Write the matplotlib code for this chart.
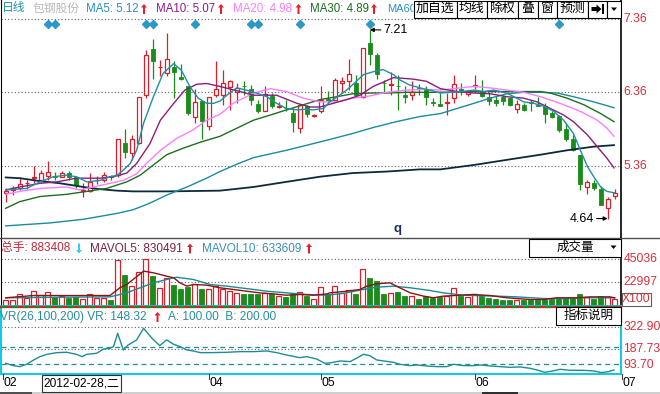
import numpy as np
import matplotlib
matplotlib.use("Agg")
import matplotlib.pyplot as plt
from matplotlib.patches import Rectangle, Polygon
from matplotlib.lines import Line2D
from matplotlib import transforms

plt.rcParams['font.family'] = ['Liberation Sans', 'Noto Sans CJK SC', 'DejaVu Sans']

# daily bars, 包钢股份, Feb - Jun 2012
opens = [4.99, 5.03, 5.05, 5.12, 5.19, 5.17, 5.22, 5.22, 5.21, 5.26,
         5.20, 5.02, 5.02, 5.16, 5.17, 5.22, 5.23, 5.67, 5.53, 5.67,
         6.32, 6.95, 6.70, 6.62, 6.71, 6.57, 6.44, 6.02, 6.24, 5.90,
         6.32, 6.33, 6.43, 6.37, 6.45, 6.40, 6.20, 6.11, 6.31, 6.16,
         6.15, 6.08, 5.87, 6.17, 6.04, 6.10, 6.27, 6.26, 6.48, 6.51,
         6.49, 6.29, 7.03, 6.87, 6.49, 6.46, 6.45, 6.33, 6.32, 6.42,
         6.41, 6.23, 6.20, 6.21, 6.28, 6.41, 6.34, 6.44, 6.38, 6.30,
         6.26, 6.29, 6.28, 6.13, 6.19, 6.23, 6.19, 6.17, 6.08, 6.04,
         5.86, 5.72, 5.51, 5.07, 5.13, 5.04, 4.79, 4.95]
highs = [5.05, 5.08, 5.20, 5.16, 5.36, 5.30, 5.42, 5.28, 5.29, 5.29,
         5.22, 5.12, 5.26, 5.22, 5.28, 5.23, 5.73, 5.86, 5.78, 6.29,
         6.94, 7.09, 6.80, 7.17, 6.78, 6.75, 6.44, 6.40, 6.26, 6.29,
         6.78, 6.67, 6.53, 6.49, 6.51, 6.46, 6.26, 6.44, 6.35, 6.23,
         6.26, 6.14, 6.20, 6.19, 6.07, 6.44, 6.38, 6.56, 6.57, 6.82,
         6.60, 6.96, 7.21, 6.89, 6.53, 6.64, 6.60, 6.44, 6.51, 6.47,
         6.44, 6.28, 6.35, 6.35, 6.60, 6.49, 6.39, 6.60, 6.53, 6.36,
         6.31, 6.32, 6.30, 6.26, 6.21, 6.26, 6.30, 6.21, 6.11, 6.05,
         5.94, 5.78, 5.51, 5.16, 5.16, 5.08, 4.94, 5.04]
lows = [4.86, 4.96, 5.03, 5.04, 5.12, 5.14, 5.16, 5.17, 5.20, 5.17,
        5.05, 4.94, 5.00, 5.11, 5.14, 5.17, 5.21, 5.46, 5.44, 5.66,
        6.28, 6.54, 6.58, 6.58, 6.28, 6.53, 6.05, 5.94, 5.72, 5.84,
        6.29, 6.19, 6.12, 6.21, 6.32, 6.19, 6.08, 6.11, 6.14, 6.14,
        6.10, 5.82, 5.81, 6.02, 6.02, 6.08, 6.21, 6.26, 6.35, 6.39,
        6.32, 6.28, 6.73, 6.54, 6.35, 6.32, 6.12, 6.21, 6.26, 6.32,
        6.19, 6.17, 6.17, 6.05, 6.21, 6.32, 6.31, 6.41, 6.29, 6.19,
        6.17, 6.19, 6.17, 6.08, 6.10, 6.10, 6.17, 5.94, 6.01, 5.82,
        5.69, 5.56, 5.03, 4.97, 5.03, 4.83, 4.64, 4.91]
closes = [5.02, 5.05, 5.11, 5.13, 5.20, 5.26, 5.28, 5.21, 5.26, 5.21,
          5.10, 5.03, 5.14, 5.17, 5.24, 5.21, 5.73, 5.55, 5.73, 6.29,
          6.87, 6.79, 6.71, 6.81, 6.63, 6.54, 6.08, 6.23, 5.97, 6.29,
          6.41, 6.48, 6.51, 6.42, 6.44, 6.26, 6.10, 6.34, 6.17, 6.18,
          6.14, 5.95, 6.19, 6.06, 6.05, 6.26, 6.26, 6.53, 6.51, 6.61,
          6.33, 6.96, 6.88, 6.61, 6.48, 6.47, 6.44, 6.29, 6.36, 6.41,
          6.29, 6.22, 6.18, 6.23, 6.47, 6.38, 6.36, 6.46, 6.31, 6.24,
          6.21, 6.24, 6.19, 6.20, 6.12, 6.22, 6.18, 6.06, 6.03, 5.84,
          5.72, 5.57, 5.11, 5.14, 5.05, 4.83, 4.90, 4.99]
# volume, x100 shares
volumes = [5800, 5800, 10700, 7500, 13900, 10000, 13300, 8100, 9700, 7500,
           8100, 6500, 10700, 7500, 7500, 5800, 44700, 30100, 18800, 32700,
           45400, 28500, 17200, 26900, 19800, 15600, 17800, 21100, 15600, 16200,
           18800, 15600, 13900, 12300, 11300, 11300, 11300, 12300, 11300, 9700,
           8100, 11300, 13300, 9100, 6800, 17800, 11300, 18800, 12300, 14600,
           11300, 35000, 26900, 24300, 10700, 12300, 13300, 9100, 9100, 6800,
           9100, 7500, 8100, 9100, 17200, 9100, 8100, 11300, 9100, 7500,
           6800, 5800, 4900, 5800, 5800, 5800, 4900, 7500, 6800, 7500,
           7500, 7500, 11300, 8100, 6800, 9100, 8100, 6500]

# moving averages (bar index, value)
ma5_idx = [0, 3, 4.9, 6.8, 8.7, 10.1, 11.6, 13.5, 14.9, 15.9, 16.8, 17.8, 18.7, 19.7, 21.1,
           22.5, 24, 25.1, 26.3, 27.5, 28.7, 29.7, 30.6, 31.6, 33, 34.4, 35.8, 37.3, 38.7, 40.1,
           41.6, 43, 43.9, 45.4, 46.3, 47.7, 48.7, 50.1, 51.1, 52.5, 53.9, 55.4, 56.3, 57.7, 59.2,
           60.6, 62.1, 65, 66.9, 68.3, 69.7, 71.6, 74, 75.4, 76.9, 78.3, 79.7, 81.1, 82.1, 83.1,
           84, 85, 85.9, 87]
ma5_val = [5.03, 5.05, 5.14, 5.21, 5.23, 5.21, 5.14, 5.16, 5.21, 5.23, 5.30, 5.39, 5.57, 5.94, 6.30,
           6.62, 6.75, 6.66, 6.44, 6.28, 6.21, 6.21, 6.24, 6.32, 6.42, 6.39, 6.35, 6.30, 6.21, 6.14,
           6.12, 6.13, 6.12, 6.14, 6.23, 6.32, 6.39, 6.51, 6.60, 6.64, 6.67, 6.60, 6.53, 6.46, 6.42,
           6.39, 6.35, 6.37, 6.39, 6.37, 6.39, 6.35, 6.23, 6.21, 6.17, 6.10, 5.98, 5.80, 5.57, 5.35,
           5.21, 5.07, 5.01, 4.99]
ma10_idx = [0, 2, 4.9, 7.3, 10.1, 13.5, 15.4, 17.3, 18.7, 20.6, 22.1, 24, 25.6, 27.3, 28.7,
            30.1, 30.6, 33.5, 35.4, 38.7, 41.6, 43.5, 44.9, 46.8, 48.7, 50.6, 52.5, 55.4, 58.2, 60.1,
            62.1, 64.5, 66.9, 69.2, 71.6, 74, 75.9, 77.8, 79.7, 81.1, 83.1, 84.5, 85.9, 86.9]
ma10_val = [5.03, 5.07, 5.12, 5.14, 5.19, 5.19, 5.21, 5.26, 5.39, 5.66, 5.98, 6.21, 6.39, 6.47, 6.48,
            6.45, 6.44, 6.37, 6.32, 6.32, 6.21, 6.16, 6.16, 6.21, 6.26, 6.32, 6.44, 6.56, 6.54, 6.51,
            6.41, 6.37, 6.35, 6.34, 6.30, 6.28, 6.23, 6.14, 6.05, 5.96, 5.78, 5.62, 5.46, 5.33]
ma20_idx = [0, 2, 4.9, 8.7, 10.6, 12.5, 14.9, 16.8, 18.7, 20.1, 22.1, 24.4, 26.8, 28.7, 30.6,
            32.5, 35.4, 37.8, 40.1, 42.5, 44.9, 47.3, 49.6, 52, 54.4, 57.3, 60.1, 62.1, 65, 66.9,
            69.2, 71.6, 74, 76.4, 79.2, 82.1, 84.5, 85.9, 86.9]
ma20_val = [4.97, 5.01, 5.05, 5.07, 5.03, 5.07, 5.12, 5.16, 5.25, 5.39, 5.57, 5.73, 5.85, 5.98, 6.06,
            6.21, 6.35, 6.41, 6.37, 6.28, 6.23, 6.23, 6.28, 6.31, 6.36, 6.39, 6.40, 6.39, 6.42, 6.44,
            6.42, 6.39, 6.36, 6.30, 6.21, 6.10, 5.98, 5.87, 5.76]
ma30_idx = [0, 2, 4.9, 8.7, 11.6, 14.4, 17.3, 19.2, 21.1, 23, 25.4, 27.8, 30.6, 33, 35.4,
            37.8, 40.1, 42.5, 44.9, 47.3, 49.6, 52, 54.4, 57.3, 60.1, 62.1, 66.9, 71.6, 76.4, 77.8,
            80.2, 82.6, 85, 86.9]
ma30_val = [4.78, 4.87, 4.94, 4.97, 5.01, 5.05, 5.14, 5.23, 5.37, 5.51, 5.60, 5.68, 5.76, 5.87, 5.98,
            6.05, 6.12, 6.19, 6.26, 6.30, 6.34, 6.35, 6.35, 6.36, 6.36, 6.36, 6.37, 6.37, 6.37, 6.35,
            6.28, 6.19, 6.07, 5.96]
ma60_idx = [0, 6.3, 11.1, 15.9, 18.2, 20.6, 23, 25.9, 28.7, 30.6, 33, 35.4, 40.1, 43.9, 46.8,
            49.6, 52.5, 55.8, 59.2, 62.1, 64.5, 66.9, 69.2, 71.6, 74, 76.4, 78.8, 81.1, 84, 86.9]
ma60_val = [4.54, 4.58, 4.63, 4.71, 4.76, 4.85, 4.96, 5.07, 5.19, 5.28, 5.38, 5.47, 5.57, 5.66, 5.73,
            5.80, 5.88, 5.96, 6.03, 6.07, 6.14, 6.21, 6.28, 6.34, 6.36, 6.36, 6.35, 6.30, 6.23, 6.15]
malong_idx = [0, 2, 4.9, 7.8, 11.1, 13.5, 15.9, 18.2, 23, 30.6, 35.4, 40.1, 44.9, 49.6, 54.4,
              59.2, 62.1, 66.9, 71.6, 76.4, 80.2, 84, 86.9]
malong_val = [5.20, 5.19, 5.15, 5.12, 5.07, 5.04, 5.02, 5.01, 5.01, 5.02, 5.07, 5.14, 5.21, 5.26, 5.28,
              5.31, 5.31, 5.37, 5.44, 5.51, 5.57, 5.62, 5.64]

mavol5_idx = [0, 4, 14.9, 16.3, 17.3, 18.2, 19.7, 21.1, 23, 24, 24.9, 25.9, 26.8, 28.7, 30.6,
              32.5, 34.4, 36.3, 38.2, 40.1, 42, 44, 45.9, 46.3, 48.7, 50.6, 51.6, 53, 54.9, 56.3,
              57.8, 59.7, 61.1, 62.5, 66.8, 69.2, 71.6, 74.9, 76.8, 78.7, 81.6, 83.5, 86.3, 87]
mavol5_val = [7500, 9700, 9700, 17200, 20400, 25300, 33400, 31800, 28500, 26900, 22000, 18800, 20400, 19800, 17200,
              15600, 13900, 12300, 11300, 10000, 10700, 10000, 11300, 12300, 13900, 15600, 18800, 21100, 22000, 17200,
              12300, 9100, 7500, 9100, 10700, 9700, 7500, 5800, 5800, 7500, 7500, 8400, 8400, 7500]
mavol10_idx = [0, 8.7, 14.9, 17.3, 19.2, 21.1, 23, 24.4, 26.8, 29.2, 31.6, 33.5, 35.4, 37.3, 40.1,
               43, 45.9, 48.7, 51.1, 53, 55.4, 57.8, 60.6, 62.5, 65.4, 70.1, 73, 76.8, 79.7, 82.5, 87]
mavol10_val = [7500, 8100, 8400, 12300, 17200, 22000, 25300, 27500, 25300, 20400, 18800, 17200, 15600, 13900, 12300,
               10700, 10000, 12300, 15600, 17800, 18800, 17200, 14600, 12300, 10000, 9100, 8400, 6800, 6500, 7500, 7500]

vr_idx = [0, 1.1, 2, 3, 4, 4.9, 5.9, 7.3, 8.7, 10.1, 10.9, 11.6, 13, 14, 14.9,
          15.4, 16, 16.8, 17.5, 18.7, 19.7, 20.9, 22, 23, 24, 24.9, 25.9, 26.8, 27.8, 29.2,
          31.6, 33.5, 35.4, 37.3, 38.7, 40.1, 42, 43, 44.4, 45.6, 46.3, 47.8, 49.2, 50.1, 51.1,
          52, 53, 54, 55.4, 56.3, 57.8, 58.7, 60.1, 61.6, 63, 64, 65.4, 66.8, 67.8, 69.2,
          70.6, 72, 73.5, 74.9, 75.9, 77, 78.2, 79.2, 80.6, 82.5, 84, 85.1, 86.1, 86.9]
vr_val = [101.7, 87.4, 81.2, 95.6, 122.2, 142.7, 157.0, 167.2, 169.3, 157.0, 142.7, 157.0, 163.2, 189.8, 193.9,
          204.1, 286.0, 183.6, 214.4, 245.1, 316.8, 255.3, 210.3, 245.1, 218.4, 204.1, 183.6, 177.5, 167.2, 167.2,
          169.3, 173.4, 173.4, 177.5, 167.2, 152.9, 136.5, 142.7, 128.3, 101.7, 104.0, 116.1, 112.0, 132.4, 157.0,
          148.8, 122.2, 116.1, 107.9, 95.6, 87.4, 91.5, 85.3, 81.2, 81.2, 95.6, 87.4, 87.4, 91.5, 85.3,
          81.2, 77.1, 79.2, 71.0, 60.8, 46.4, 54.6, 64.8, 58.7, 58.7, 54.6, 44.4, 50.5, 60.8]

price_ticks = [5.36, 6.36, 7.36]
vol_ticks = [22997, 45036]
vr_ticks = [93.70, 187.73, 322.90]
vr_grid = [187.73, 322.90]
vr_ab = [100, 200]
month_idx = [-0.4, 29, 45, 67, 88]
month_lab = ['02', '04', '05', '06', '07']
marker_idx = [6, 7, 20, 21, 27, 35, 36, 42, 52, 79]

RED = '#d8202c'
GREEN = '#1b8c1b'
LABEL = '#d8303c'
CYAN = '#16c8e0'

W, H = 660, 394
fig = plt.figure(figsize=(W / 100, H / 100), dpi=100)


def fx(x):
    return x / W


def fy(y):
    return 1 - y / H


def ftext(x, y, s, color='black', size=8.5, ha='left', **kw):
    return fig.text(fx(x), fy(y), s, color=color, fontsize=size, ha=ha, va='center', **kw)


def rect(x0, y0, x1, y1, ec='black', fc='white', lw=0.8, z=5):
    fig.add_artist(Rectangle((fx(x0), fy(y1)), fx(x1) - fx(x0), fy(y0) - fy(y1),
                             transform=fig.transFigure, facecolor=fc, edgecolor=ec, lw=lw, zorder=z))


def poly(pts, color, z=7):
    fig.add_artist(Polygon([(fx(a), fy(b)) for a, b in pts], closed=True, transform=fig.transFigure,
                           facecolor=color, edgecolor='none', zorder=z))


def arrow(x, y, color='#e8202c', up=True):
    s = 1 if up else -1
    pts = [(x, y - 5 * s), (x + 3, y - 1.5 * s), (x + 1, y - 1.5 * s), (x + 1, y + 5 * s),
           (x - 1, y + 5 * s), (x - 1, y - 1.5 * s), (x - 3, y - 1.5 * s)]
    poly(pts, color)


def add_ax(top, bottom):
    return fig.add_axes([fx(1), fy(bottom), (621 - 1) / W, (bottom - top) / H])


ax_p = add_ax(0, 238)
ax_v = add_ax(238, 305.5)
ax_r = add_ax(306.5, 373.5)
for ax in (ax_p, ax_v, ax_r):
    ax.set_xlim(-0.67, 87.9)
    ax.set_xticks([])
    ax.set_yticks([])
    ax.set_facecolor('white')
    ax.spines['top'].set_visible(False)

ax_p.set_ylim(4.375, 7.6175)
ax_v.set_ylim(0, 65610)
ax_r.set_ylim(39.0, 450.7)

idx = np.arange(len(closes))
o, h, l, c = (np.array(a) for a in (opens, highs, lows, closes))
v = np.array(volumes)
up = c >= o
top = np.maximum(o, c)
bot = np.minimum(o, c)

# ---- price panel ----
for t in price_ticks:
    ax_p.axhline(t, color='#606060', lw=0.8, ls=(0, (1, 2)), zorder=1)
ax_p.vlines(idx[~up], l[~up], h[~up], color=GREEN, lw=0.9, zorder=2)
ax_p.bar(idx[~up], (o - c)[~up], bottom=c[~up], width=0.62, color=GREEN, edgecolor=GREEN, lw=0.6, zorder=2)
ax_p.vlines(idx[up], top[up], h[up], color=RED, lw=0.9, zorder=2)
ax_p.vlines(idx[up], l[up], bot[up], color=RED, lw=0.9, zorder=2)
ax_p.bar(idx[up], np.maximum((c - o)[up], 0.004), bottom=o[up], width=0.62, facecolor='white',
         edgecolor=RED, lw=0.9, zorder=2)

ax_p.plot(malong_idx, malong_val, color='#0c2a3a', lw=1.3, zorder=3)
ax_p.plot(ma60_idx, ma60_val, color='#1a8c9c', lw=1.0, zorder=3)
ax_p.plot(ma30_idx, ma30_val, color='#1e6e1e', lw=1.0, zorder=3)
ax_p.plot(ma20_idx, ma20_val, color='#ff7cff', lw=1.0, zorder=3)
ax_p.plot(ma10_idx, ma10_val, color='#8c1c80', lw=1.0, zorder=3)
ax_p.plot(ma5_idx, ma5_val, color='#1f8fa6', lw=1.0, zorder=3)

ax_p.plot(marker_idx, [7.29] * len(marker_idx), 'D', ms=4.2, color='#2a98c8', zorder=4, clip_on=False)

ax_p.annotate('7.21', xy=(52, 7.21), xytext=(10, 0), textcoords='offset points', ha='left', va='center',
              fontsize=9, arrowprops=dict(arrowstyle='-|>', color='black', lw=0.8, mutation_scale=6,
                                          shrinkA=0, shrinkB=0), zorder=6)
ax_p.annotate('4.64', xy=(86, 4.64), xytext=(-10, 0), textcoords='offset points', ha='right', va='center',
              fontsize=9, arrowprops=dict(arrowstyle='-|>', color='black', lw=0.8, mutation_scale=6,
                                          shrinkA=0, shrinkB=0), zorder=6)

ax_p.spines['bottom'].set_visible(False)
ax_p.spines['left'].set_color('black')
ax_p.spines['right'].set_color('black')
ax_p.spines['right'].set_linewidth(1.2)

lab_p = transforms.blended_transform_factory(ax_p.transAxes, ax_p.transData)
for t in price_ticks:
    ax_p.text(1.004, t, f'{t:.2f}', transform=lab_p, color=LABEL, fontsize=8.7, ha='left', va='center')

# ---- volume panel ----
for t in vol_ticks:
    ax_v.axhline(t, color='#606060', lw=0.8, ls=(0, (1, 2)), zorder=1)
ax_v.bar(idx[~up], v[~up], width=0.68, color=GREEN, edgecolor=GREEN, lw=0.6, zorder=2)
ax_v.bar(idx[up], v[up], width=0.68, facecolor='white', edgecolor=RED, lw=0.9, zorder=2)
ax_v.plot(mavol10_idx, mavol10_val, color='#1a8a98', lw=1.0, zorder=3)
ax_v.plot(mavol5_idx, mavol5_val, color='#8b1414', lw=1.0, zorder=3)
ax_v.spines['bottom'].set_color(CYAN)
ax_v.spines['bottom'].set_linewidth(1.5)
ax_v.spines['left'].set_color('black')
ax_v.spines['right'].set_color('black')
ax_v.spines['right'].set_linewidth(1.2)
lab_v = transforms.blended_transform_factory(ax_v.transAxes, ax_v.transData)
for t in vol_ticks:
    ax_v.text(1.004, t, f'{t}', transform=lab_v, color=LABEL, fontsize=8.7, ha='left', va='center')

# ---- VR panel ----
for t in vr_grid:
    ax_r.axhline(t, color='#606060', lw=0.8, ls=(0, (1, 2)), zorder=1)
for t in vr_ab:
    ax_r.axhline(t, color='#1e8c98', lw=0.9, ls=(0, (4, 3)), zorder=1)
ax_r.plot(vr_idx, vr_val, color='#1e8c98', lw=1.0, zorder=3)
for side in ('left', 'right', 'bottom'):
    ax_r.spines[side].set_color(CYAN)
    ax_r.spines[side].set_linewidth(1.5)
ax_r.axhline(450.7, color=RED, lw=1.6, zorder=4, clip_on=False)
ax_r.axhline(450.7, color=GREEN, lw=1.6, ls=(0, (2.5, 2.5)), zorder=4, clip_on=False)
lab_r = transforms.blended_transform_factory(ax_r.transAxes, ax_r.transData)
for t in vr_ticks:
    ax_r.text(1.004, t, f'{t:.2f}', transform=lab_r, color=LABEL, fontsize=8.7, ha='left', va='center')

# ---- time axis ----
tr = transforms.blended_transform_factory(ax_r.transData, fig.transFigure)
tr_lab = transforms.offset_copy(tr, fig=fig, x=1, y=0, units='dots')
for i, m in zip(month_idx, month_lab):
    fig.add_artist(Line2D([i, i], [fy(373.5), fy(378.5)], transform=tr, color='#404040', lw=0.8))
    fig.text(i, fy(383.5), m, transform=tr_lab, fontsize=8.7, ha='left', va='center', clip_on=False)
rect(41.5, 375, 121, 392, ec='#303030', lw=0.8, z=5)
ftext(43.5, 383.5, '2012-02-28,二', size=8.6, zorder=6)

# scroll strip
rect(0, 392.3, 660, 394, ec='none', fc='#cfcfcf', z=2)
rect(0, 392.3, 32, 394, ec='none', fc='#505050', z=3)
rect(482, 392.3, 518, 394, ec='none', fc='#303030', z=3)

# separator under the price panel
fig.add_artist(Line2D([0, 1], [fy(238), fy(238)], transform=fig.transFigure, color='#505050', lw=1))

# ---- header texts ----
ftext(2, 8.5, '日线', color='#2090a8', size=8.5)
ftext(33, 8.5, '包钢股份', color='#b8b8b8', size=8.5)
ftext(86, 8.5, 'MA5: 5.12', color='#2a8fc0', size=8.3)
arrow(144, 9)
ftext(156, 8.5, 'MA10: 5.07', color='#8c1c8c', size=8.3)
arrow(221, 9)
ftext(233, 8.5, 'MA20: 4.98', color='#ff7cff', size=8.3)
arrow(298.5, 9)
ftext(310, 8.5, 'MA30: 4.89', color='#1e6e1e', size=8.3)
arrow(374, 9)
ma60_txt = ftext(387, 8.5, 'MA60', color='#2a8fc0', size=8.0)
ma60_txt.set_clip_box(transforms.Bbox.from_extents(0, 0, 413, H))

# toolbar buttons
edges = [414, 456.7, 486.7, 518.3, 537.7, 556.7, 587.7, 606.7, 621]
labels = ['加自选', '均线', '除权', '叠', '窗', '预测', '', '']
for x0, x1, s in zip(edges[:-1], edges[1:], labels):
    rect(x0, 0.5, x1, 17.5, z=5)
    if s:
        ftext((x0 + x1) / 2, 9, s, size=9.3, ha='center', zorder=6)
poly([(591.5, 7), (596.5, 7), (596.5, 4.5), (601.5, 9), (596.5, 13.5), (596.5, 11), (591.5, 11)], 'black')
rect(602.3, 4.5, 604.3, 13.5, ec='none', fc='black', z=7)
poly([(611, 7.5), (617, 7.5), (614, 11)], 'black')

ftext(397, 229, 'q', color='#1a2a5a', size=9.5, ha='center', weight='bold')

# volume header
ftext(1, 248.5, '总手: 883408', color='#c0283c', size=8.5)
arrow(79, 248.5, color='#40c8f0', up=False)
ftext(90.5, 248.5, 'MAVOL5: 830491', color='#7a2040', size=8.5)
arrow(190, 248.5)
ftext(201.5, 248.5, 'MAVOL10: 633609', color='#3a90b8', size=8.5)
arrow(309, 248.5)
rect(529.3, 238.5, 621, 257.3, z=5)
ftext(575, 247.5, '成交量', size=9, ha='center', zorder=6)
poly([(610.5, 245.5), (616.5, 245.5), (613.5, 249)], 'black')
rect(622.3, 292.7, 650.7, 305.5, ec='#606060', lw=0.8, z=5)
ftext(636.5, 299.3, 'X100', color=LABEL, size=8.7, ha='center', zorder=6)

# VR header
ftext(0.5, 317, 'VR(26,100,200) VR: 148.32', color='#2a8ca0', size=8.6)
arrow(157.5, 317)
ftext(168.5, 317, 'A: 100.00  B: 200.00', color='#2a8ca0', size=8.6)
rect(556, 306.8, 621, 325, z=5)
ftext(588.5, 316, '指标说明', size=9, ha='center', zorder=6)

fig.savefig('out.png', dpi=100)
